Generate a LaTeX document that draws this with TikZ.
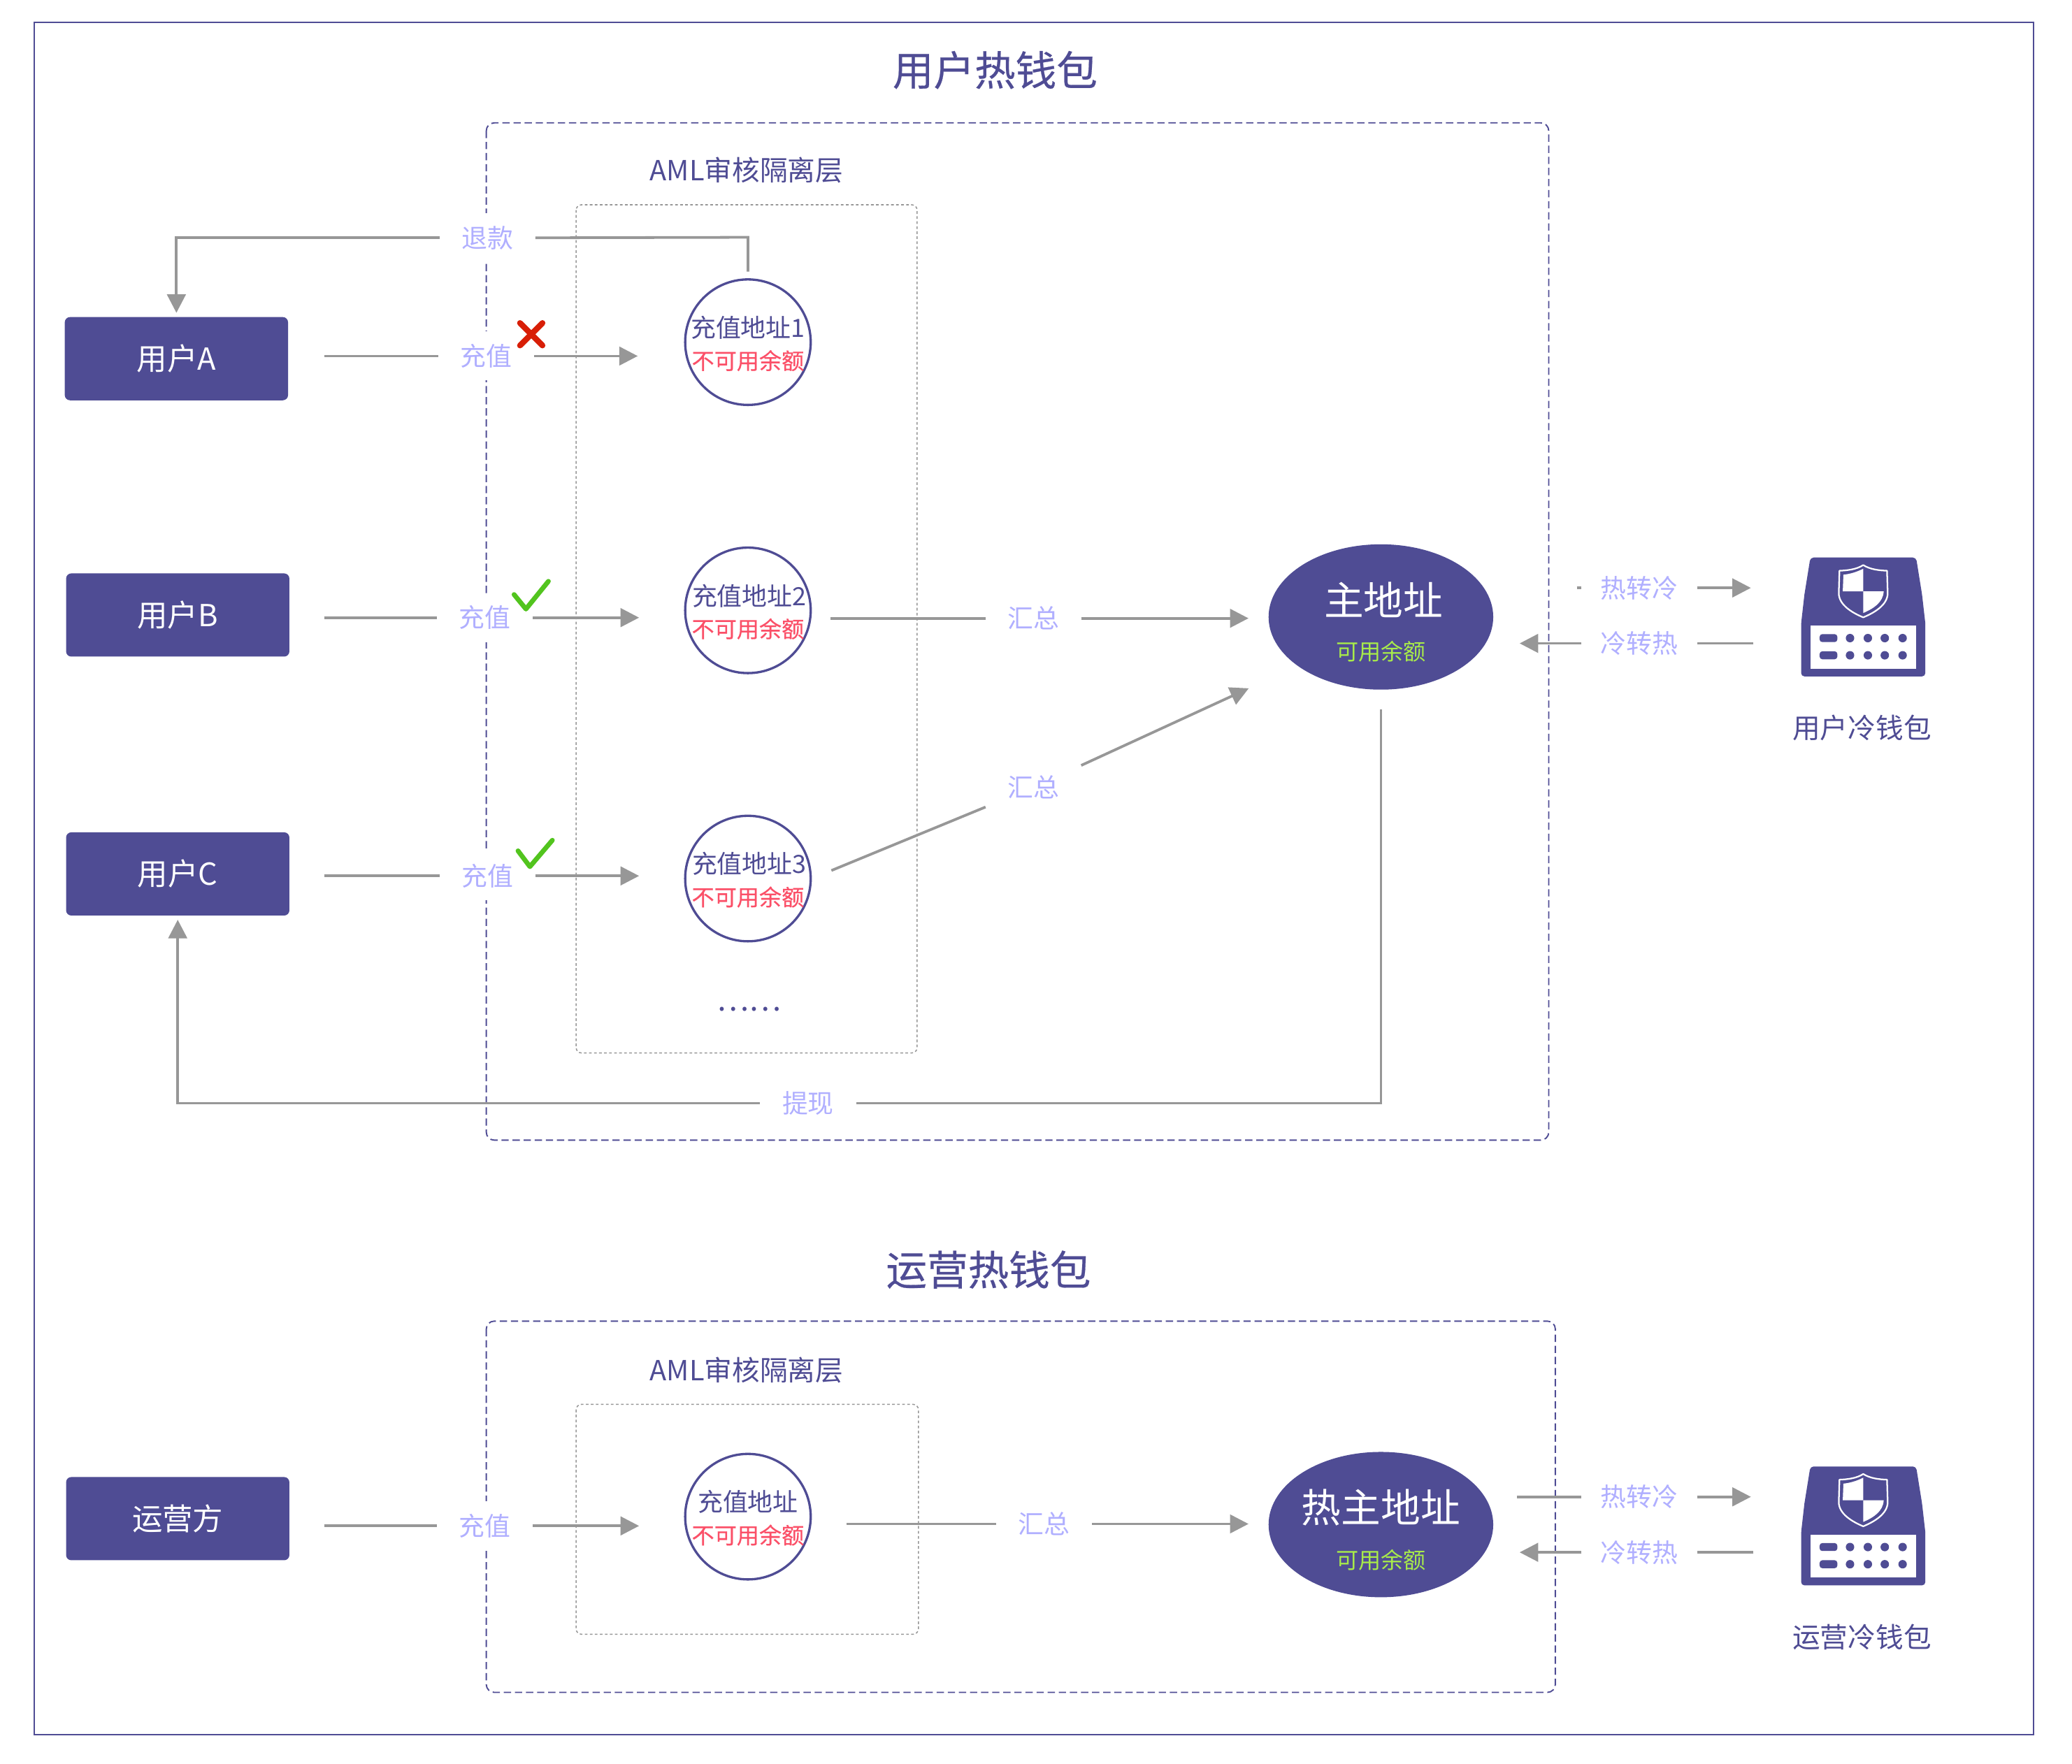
\documentclass[tikz,border=0pt]{standalone}
\usepackage{fontspec}
\setmainfont{Noto Sans CJK SC}
\newfontfamily\medfont[FakeBold=0.35]{Noto Sans CJK SC}
\usetikzlibrary{arrows.meta,calc}
\definecolor{navy}{HTML}{4F4C94}
\definecolor{lilac}{HTML}{B0AFFF}
\definecolor{wire}{HTML}{979797}
\definecolor{warn}{HTML}{FB5068}
\definecolor{avail}{HTML}{A8EB4A}
\definecolor{okgreen}{HTML}{52C41E}
\definecolor{nogo}{HTML}{D81E06}
\newcommand\fs[1]{\fontsize{#1}{#1}\selectfont}
\tikzset{
  outerbox/.style={draw=navy,line width=1.1pt},
  zonebox/.style={draw=navy,line width=1pt,dash pattern=on 5.5pt off 2.9pt,rounded corners=6pt},
  amlbox/.style={draw=wire,line width=.8pt,dash pattern=on 2pt off 1.8pt,rounded corners=4pt},
  titletext/.style={text=navy,font=\fs{31}\medfont},
  captext/.style={text=navy,font=\fs{21}},
  actor/.style={fill=navy,text=white,rounded corners=4pt,minimum width=169pt,minimum height=63pt,inner sep=0pt,font=\fs{23}},
  addr/.style={circle,draw=navy,line width=1.75pt,fill=white,minimum size=95pt,inner sep=0pt},
  addrtop/.style={text=navy,font=\fs{19},inner sep=0pt},
  addrlow/.style={text=warn,font=\fs{17}\medfont,inner sep=0pt},
  master/.style={ellipse,fill=navy,minimum width=170pt,minimum height=110pt,inner sep=0pt},
  mastertop/.style={text=white,font=\fs{30},inner sep=0pt},
  masterlow/.style={text=avail,font=\fs{17},inner sep=0pt},
  tag/.style={fill=white,text=lilac,font=\fs{19.5},minimum width=72pt,minimum height=37pt,inner sep=0pt},
  widetag/.style={tag,minimum width=87pt,minimum height=30pt},
  wireline/.style={draw=wire,line width=2pt},
  wirearrow/.style={wireline,-{Triangle[length=14pt,width=14pt]}},
  okmark/.style={draw=okgreen,line width=3.6pt,line cap=round,line join=round},
  nomark/.style={draw=nogo,line width=4.4pt,line cap=round},
  wallet/.pic={
    \fill[navy,rounded corners=2.5pt] (-40,0) -- (40,0) -- (44.5,28) [sharp corners] -- (47,50) [rounded corners=2.5pt] -- (47,90) -- (-47,90) -- (-47,50) [sharp corners] -- (-44.5,28) [rounded corners=2.5pt] -- cycle;
    \fill[white] (-40,51.5) rectangle (40,84);
    \fill[navy,rounded corners=2pt] (-33,58) rectangle (-19.6,64);
    \fill[navy,rounded corners=2pt] (-33,71) rectangle (-19.6,77);
    \foreach \px in {-10,3.5,16.3,29.8} {
      \fill[navy] (\px,61) circle (3.2pt);
      \fill[navy] (\px,74) circle (3.2pt);
    }
    \draw[white,line width=1.2pt,line join=round] (0,5.7) .. controls (-5,9) and (-12,9.8) .. (-18,10) -- (-18.5,27) .. controls (-18.5,36) and (-8,42) .. (0,45.3) .. controls (8,42) and (18.5,36) .. (18.5,27) -- (18,10) .. controls (12,9.8) and (5,9) .. (0,5.7) -- cycle;
    \fill[white] (0,8.5) .. controls (-5,11) and (-10,12.5) .. (-15,13) -- (-15.5,25.6) -- (0,25.6) -- cycle;
    \fill[white] (0,25.6) -- (15.5,25.6) .. controls (15,34) and (8,38.5) .. (0,42) -- cycle;
  }
}
\usetikzlibrary{shapes.geometric}
\begin{document}
\begin{tikzpicture}[x=1pt,y=-1pt]
\useasboundingbox (0,0) rectangle (1568,1335);
\fill[white] (0,0) rectangle (1568,1335);
\draw[outerbox] (26,17) rectangle (1539,1313);

% top section
\node[titletext] (t1) at (753,53) {用户热钱包};
\draw[zonebox] (368,93) rectangle (1172,863);
\node[captext] (aml1) at (565,129) {AML审核隔离层};
\draw[amlbox] (436,155) rectangle (694,797);

\node[actor] (uA) at (133.5,271.5) {用户A};
\node[actor] (uB) at (134.5,465.5) {用户B};
\node[actor] (uC) at (134.5,661.5) {用户C};

\node[addr] (c1) at (566,259) {};
\node[addrtop] (c1a) at (566,248) {充值地址1};
\node[addrlow] (c1b) at (566,273) {不可用余额};
\node[addr] (c2) at (566,462) {};
\node[addrtop] (c2a) at (567,451) {充值地址2};
\node[addrlow] (c2b) at (566,476) {不可用余额};
\node[addr] (c3) at (566,665) {};
\node[addrtop] (c3a) at (567,654) {充值地址3};
\node[addrlow] (c3b) at (566,679) {不可用余额};
\node[text=navy,font=\fs{23},inner sep=0pt] (more) at (567,764) {……};

\node[master] (main) at (1045,467) {};
\node[mastertop] (maina) at (1047,454) {主地址};
\node[masterlow] (mainb) at (1045,493) {可用余额};

\node[tag] (back) at (369,180) {退款};
\node[tag] (payA) at (368,269.5) {充值};
\node[tag] (payB) at (367,467.5) {充值};
\node[tag] (payC) at (369,663) {充值};
\node[tag] (sum2) at (782,468) {汇总};
\node[tag] (sum3) at (782,596) {汇总};
\node[tag,minimum width=73pt] (draw1) at (611.5,835) {提现};

\draw[wireline,shorten <=5pt] (c1.north) -- ++(0,-31) -- (back.east);
\draw[wirearrow,shorten >=3pt] (back.west) -| (uA.north);

\draw[wireline,shorten <=27pt] (uA.east |- payA) -- (payA.west);
\draw[wirearrow,shorten >=35pt] (payA.east) -- (c1.west |- payA);
\draw[wireline,shorten <=26pt] (uB.east |- payB) -- (payB.west);
\draw[wirearrow,shorten >=34pt] (payB.east) -- (c2.west |- payB);
\draw[wireline,shorten <=26pt] (uC.east |- payC) -- (payC.west);
\draw[wirearrow,shorten >=34pt] (payC.east) -- (c3.west |- payC);

\draw[wireline,shorten <=14pt] (c2.east |- sum2) -- (sum2.west);
\draw[wirearrow,shorten >=15pt] (sum2.east) -- (main.west |- sum2);
\coordinate (mainin) at (945,521);
\draw[wireline,shorten <=16pt] (c3.east) -- (sum3);
\draw[wirearrow] (sum3) -- (mainin);

\draw[wireline,shorten <=15pt] (main.south) |- (draw1.east);
\draw[wirearrow,shorten >=3pt] (draw1.west) -| (uC.south);

\node[widetag] (h2c) at (1240.5,445) {热转冷};
\node[widetag] (c2h) at (1240.5,487) {冷转热};
\pic (w1) at (1410,422) {wallet};
\node[captext,inner sep=0pt] (w1t) at (1409,551) {用户冷钱包};
\coordinate (w1l) at (1363,445);
\coordinate (w1m) at (1363,487);
\draw[wireline,shorten <=45pt] (main.east |- h2c) ++(18,0) -- (h2c.west);
\draw[wirearrow,shorten >=38pt] (h2c.east) -- (w1l);
\draw[wireline,shorten <=36pt] (w1m) -- (c2h.east);
\draw[wirearrow] (c2h.west) -- (1150,487);

\draw[nomark] (393.5,244.5) -- (410.5,261.5);
\draw[nomark] (410.5,244.5) -- (393.5,261.5);
\draw[okmark] (389,450) -- (398,461) -- (415,440);
\draw[okmark] (392,644) -- (401,656) -- (418,636);

% bottom section
\node[titletext] (t2) at (748,961) {运营热钱包};
\draw[zonebox] (368,1000) rectangle (1177,1281);
\node[captext] (aml2) at (565,1037) {AML审核隔离层};
\draw[amlbox] (436,1063) rectangle (695,1237);

\node[actor] (op) at (134.5,1149.5) {运营方};
\node[addr] (c4) at (566,1148) {};
\node[addrtop] (c4a) at (566,1137) {充值地址};
\node[addrlow] (c4b) at (566,1162) {不可用余额};
\node[master] (hot) at (1045,1154) {};
\node[mastertop] (hota) at (1045,1141) {热主地址};
\node[masterlow] (hotb) at (1045,1181) {可用余额};

\node[tag] (payD) at (367,1155) {充值};
\node[tag] (sum4) at (790,1153.5) {汇总};
\draw[wireline,shorten <=26pt] (op.east |- payD) -- (payD.west);
\draw[wirearrow,shorten >=34pt] (payD.east) -- (c4.west |- payD);
\draw[wireline,shorten <=26pt] (c4.east |- sum4) -- (sum4.west);
\draw[wirearrow,shorten >=15pt] (sum4.east) -- (hot.west |- sum4);

\node[widetag] (h2c2) at (1240.5,1133) {热转冷};
\node[widetag] (c2h2) at (1240.5,1175) {冷转热};
\pic (w2) at (1410,1110) {wallet};
\node[captext,inner sep=0pt] (w2t) at (1409,1239) {运营冷钱包};
\coordinate (w2l) at (1363,1133);
\coordinate (w2m) at (1363,1175);
\draw[wireline,shorten <=18pt] (hot.east |- h2c2) -- (h2c2.west);
\draw[wirearrow,shorten >=38pt] (h2c2.east) -- (w2l);
\draw[wireline,shorten <=36pt] (w2m) -- (c2h2.east);
\draw[wirearrow] (c2h2.west) -- (1150,1175);
\end{tikzpicture}
\end{document}
